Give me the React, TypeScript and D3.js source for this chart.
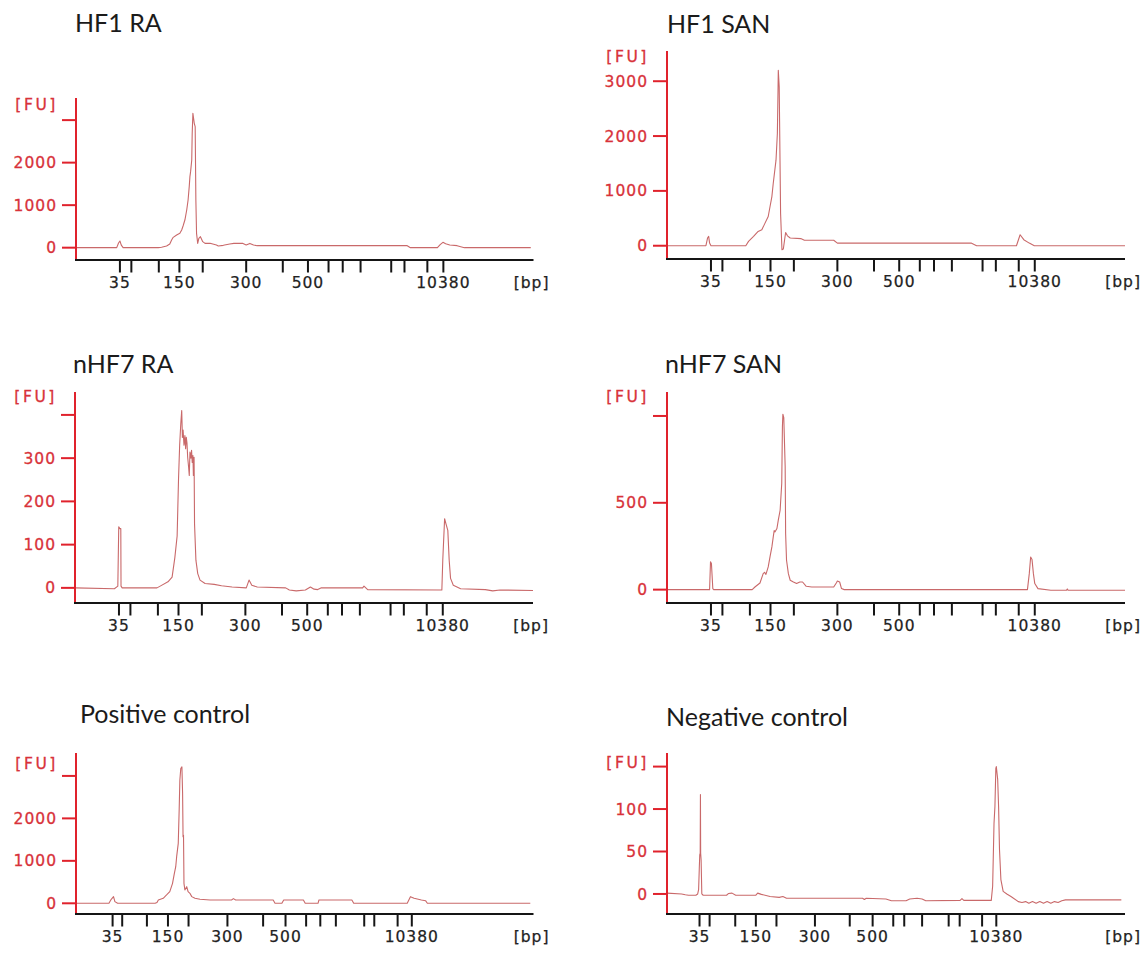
import React from "react";
import * as d3 from "d3";

type Pt = [number, number];

// Ladder fragment sizes (bp) and the migration times (s) at which they were detected.
const ladderSizes = [35, 50, 100, 150, 200, 300, 400, 500, 600, 700, 1000, 2000, 3000, 7000, 10380];
const labelledSizes = [35, 150, 300, 500, 10380];
const ladderTimesChipA = [9.6, 12.1, 18.1, 22.6, 27.7, 37.2, 45.2, 50.7, 55.2, 58.3, 62.2, 68.9, 71.8, 76.8, 80.3];
const ladderTimesPositive = [8.0, 10.1, 15.5, 20.1, 24.6, 33.1, 40.9, 45.8, 50.3, 53.4, 56.8, 63.0, 65.2, 70.3, 73.4];
const ladderTimesNegative = [7.1, 9.3, 14.9, 19.4, 23.9, 32.3, 39.9, 44.9, 49.4, 51.8, 55.7, 61.5, 63.9, 68.8, 71.9];

const sampleNames = ["HF1 RA", "HF1 SAN", "nHF7 RA", "nHF7 SAN", "Positive control", "Negative control"];

// Electropherogram traces: [migration time (s), fluorescence (FU)]
const hf1RA: Pt[] = [
  [0, 0], [8.9, 0], [9.3, 110], [9.6, 157], [9.9, 60], [10.3, 0], [18.0, 0], [18.7, 10], [19.8, 40],
  [20.5, 86], [20.9, 180], [21.25, 243], [22.0, 298], [22.7, 337], [23.1, 415], [23.4, 510], [23.8, 650],
  [24.2, 886], [24.5, 1121], [24.75, 1435], [24.9, 1670], [25.05, 1788], [25.3, 2062], [25.4, 2690],
  [25.55, 3160], [25.7, 3042], [25.85, 2924], [26.05, 2846], [26.2, 1121], [26.35, 337], [26.6, 102],
  [26.85, 220], [27.2, 259], [27.7, 141], [28.2, 102], [29.3, 102], [30.7, 63], [31.1, 40], [32.2, 55],
  [33.6, 86], [34.5, 100], [36.5, 100], [37.2, 63], [38.0, 100], [38.8, 63], [39.6, 47], [72.4, 47],
  [73.1, 0], [79.0, 0], [79.6, 70], [80.2, 125], [80.8, 90], [81.7, 63], [83.3, 47], [84.9, 0], [99.4, 0],
];

const hf1SAN: Pt[] = [
  [0, 0], [8.5, 0], [8.85, 140], [9.1, 170], [9.3, 48], [9.6, 0], [17.2, 0], [17.8, 79], [18.9, 170],
  [19.9, 260], [20.7, 290], [21.4, 412], [22.1, 533], [22.5, 715], [22.9, 897], [23.2, 1140], [23.8, 1560],
  [24.1, 2050], [24.24, 2840], [24.3, 3200], [24.5, 2900], [24.8, 594], [25.1, -73], [25.4, -60],
  [25.9, 242], [26.3, 180], [26.9, 140], [29.2, 130], [30.0, 100], [36.4, 100], [37.2, 48], [66.4, 48],
  [67.6, 0], [76.3, 0], [77.1, 200], [77.9, 110], [79.1, 48], [80.2, 0], [100, 0],
];

const nhf7RA: Pt[] = [
  [0, 0], [8.6, -2], [9.35, 4], [9.55, 141], [9.8, 137], [10.0, 137], [10.05, 4], [10.3, 0], [17.9, 0],
  [18.6, 4], [20.3, 14], [21.2, 25], [21.8, 70], [22.3, 120], [22.6, 250], [22.85, 330], [23.1, 380],
  [23.3, 410], [23.45, 348], [23.6, 365], [23.8, 330], [24.0, 352], [24.15, 322], [24.3, 348],
  [24.45, 335], [24.6, 302], [24.8, 280], [24.95, 260], [25.1, 314], [25.3, 300], [25.45, 318],
  [25.6, 290], [25.75, 306], [25.85, 260], [26.0, 302], [26.1, 148], [26.4, 64], [26.8, 33], [27.3, 18],
  [28.4, 10], [30.4, 8], [32.0, 5], [34.3, 2], [37.4, 0], [38.0, 18], [38.6, 6], [39.8, 2], [46.0, 0],
  [46.8, -5], [48.3, -7], [50.3, -5], [51.4, 2], [52.2, -3], [53.0, -4], [53.8, 0], [62.8, 0], [63.1, 4],
  [63.9, -4], [80.1, -5], [80.3, 64], [80.7, 160], [81.0, 148], [81.4, 133], [81.7, 64], [82.0, 22],
  [82.6, 6], [84.2, -2], [89.6, -4], [91.2, -7], [92.8, -5], [100, -6],
];

const nhf7SAN: Pt[] = [
  [0, 0], [9.3, 0], [9.5, 160], [9.7, 150], [10.0, 6], [10.2, 0], [18.6, 0], [19.2, 15], [20.3, 38],
  [21.0, 92], [21.3, 100], [21.6, 88], [22.1, 131], [22.5, 190], [22.9, 246], [23.2, 304], [23.4, 340],
  [23.6, 333], [24.0, 352], [24.3, 400], [24.7, 457], [25.05, 611], [25.2, 938], [25.3, 1010],
  [25.5, 990], [25.8, 707], [25.9, 323], [26.1, 169], [26.5, 92], [26.9, 54], [27.6, 44], [28.3, 35],
  [29.0, 44], [29.6, 44], [30.4, 19], [31.6, 15], [36.4, 15], [37.0, 40], [37.2, 50], [37.7, 44],
  [38.1, 6], [38.7, 0], [78.7, 0], [79.1, 92], [79.4, 188], [79.7, 173], [80.0, 92], [80.3, 35],
  [81.0, 6], [83.8, -4], [87.2, -4], [87.4, 4], [87.6, -4], [100, -4],
];

const positiveControl: Pt[] = [
  [0, 0], [7.2, 0], [7.7, 94], [8.2, 156], [8.5, 39], [9.1, 0], [17.3, 0], [17.7, 20], [18.0, 78],
  [19.06, 118], [19.8, 196], [20.5, 274], [21.1, 470], [21.5, 705], [21.8, 862], [22.0, 1098],
  [22.35, 1411], [22.55, 2195], [22.7, 2900], [22.9, 3175], [23.15, 3214], [23.3, 2587], [23.4, 1568],
  [23.5, 1600], [23.6, 470], [23.8, 314], [24.2, 392], [24.5, 274], [24.9, 235], [25.3, 157],
  [26.0, 118], [27.1, 94], [29.3, 78], [34.0, 78], [34.4, 110], [34.9, 78], [43.1, 78], [43.5, 0],
  [45.0, 0], [45.4, 78], [49.7, 78], [50.1, 0], [52.9, 0], [53.1, 78], [60.3, 78], [60.7, 0], [72.4, 0],
  [73.1, 156], [73.9, 117], [75.5, 78], [76.4, 62], [76.8, 0], [99.3, 0],
];

const negativeControl: Pt[] = [
  [0, 1], [3.2, 0], [4.0, -1], [4.7, -1.5], [6.3, -1.5], [6.7, 0], [6.9, 5], [7.05, 30], [7.15, 46],
  [7.25, 48], [7.3, 117], [7.35, 48], [7.45, 40], [7.6, 0], [7.9, -1.5], [13.0, -1.5], [13.4, 0.5],
  [14.2, 1], [15.0, -1.5], [19.4, -1.5], [19.8, 1], [20.6, -0.5], [22.5, -3], [24.5, -4], [25.3, -3],
  [26.1, -5], [42.7, -5], [43.1, -6.5], [43.5, -5], [47.8, -6], [49.0, -8], [52.2, -8], [53.0, -6],
  [54.6, -5], [55.7, -6], [56.5, -8], [64.0, -7.5], [64.4, -5.5], [64.8, -7.5], [70.8, -7.5],
  [71.1, 9], [71.4, 83], [71.6, 103], [71.8, 148], [71.9, 150], [72.2, 135], [72.4, 103], [72.6, 52],
  [72.9, 17], [73.4, 3], [74.2, 0], [75.1, -3], [76.7, -9], [77.5, -10], [78.3, -9], [79.0, -11],
  [79.8, -9], [80.6, -11], [81.4, -9], [82.2, -11], [83.0, -9], [83.8, -11], [84.6, -9], [85.4, -10],
  [86.2, -8], [87.0, -7], [99.2, -7],
];

const traces = [hf1RA, hf1SAN, nhf7RA, nhf7SAN, positiveControl, negativeControl];
const ladders = [ladderTimesChipA, ladderTimesChipA, ladderTimesChipA, ladderTimesChipA, ladderTimesPositive, ladderTimesNegative];

// Fluorescence ranges and tick values of each electropherogram
const yDomains: [number, number][] = [[-290, 3520], [-242, 3551], [-35, 453], [-77, 1138], [-252, 3540], [-23.6, 166]];
const yTickValues = [[0, 1000, 2000, 3000], [0, 1000, 2000, 3000], [0, 100, 200, 300, 400], [0, 500, 1000], [0, 1000, 2000, 3000], [0, 50, 100, 150]];
const yTickLabelled = [[0, 1000, 2000], [0, 1000, 2000, 3000], [0, 100, 200, 300], [0, 500], [0, 1000, 2000], [0, 50, 100]];

// Page placement of each panel
const layout = [
  { x0: 76, x1: 533.5, top: 98, bottom: 260, tx: 75, ty: 32, fuDy: 6 },
  { x0: 667, x1: 1125, top: 51, bottom: 259, tx: 667, ty: 33, fuDy: 5 },
  { x0: 75, x1: 533, top: 392, bottom: 603, tx: 73, ty: 373, fuDy: 4 },
  { x0: 667, x1: 1125, top: 392, bottom: 603, tx: 665, ty: 373, fuDy: 4 },
  { x0: 76, x1: 533.5, top: 753, bottom: 914, tx: 80, ty: 723, fuDy: 10 },
  { x0: 667, x1: 1125, top: 753, bottom: 914, tx: 666, ty: 726, fuDy: 9 },
];

const AXIS_RED = "#e0222c";
const LABEL_RED = "#d8323a";
const TRACE = "#c9696a";
const AXIS_FONT = "'DejaVu Sans', Verdana, sans-serif";
const TITLE_FONT = "Lato, 'Open Sans', sans-serif";

function Panel({ i }: { i: number }) {
  const L = layout[i];
  const x = d3.scaleLinear().domain([0, 100]).range([L.x0, L.x1]);
  const y = d3.scaleLinear().domain(yDomains[i]).range([L.bottom, L.top]);
  const line = d3.line<Pt>().x((d) => x(d[0])).y((d) => y(d[1]));
  const times = ladders[i];
  return (
    <g>
      <text x={L.tx} y={L.ty} fontFamily={TITLE_FONT} fontSize={25} fill="#1b1b1b">
        {sampleNames[i]}
      </text>
      <path d={line(traces[i]) ?? ""} fill="none" stroke={TRACE} strokeWidth={1.1} strokeLinejoin="round" />
      {/* fluorescence axis */}
      <line x1={L.x0} x2={L.x0} y1={L.top} y2={L.bottom} stroke={AXIS_RED} strokeWidth={2} />
      {yTickValues[i].map((v) => (
        <line key={"t" + v} x1={L.x0 - 14} x2={L.x0} y1={y(v)} y2={y(v)} stroke={AXIS_RED} strokeWidth={2} />
      ))}
      <g fontFamily={AXIS_FONT} fontSize={15.5} fill={LABEL_RED} stroke={LABEL_RED} strokeWidth={0.3}>
        {yTickLabelled[i].map((v) => (
          <text key={"l" + v} x={L.x0 - 19} y={y(v)} dy="0.36em" textAnchor="end" letterSpacing={1}>
            {v}
          </text>
        ))}
        <text x={L.x0 - 18} y={L.top + L.fuDy} dy="0.36em" textAnchor="end" letterSpacing={2.6}>
          [FU]
        </text>
      </g>
      {/* size axis */}
      <line x1={L.x0 - 1} x2={L.x1} y1={L.bottom} y2={L.bottom} stroke="#151515" strokeWidth={2} />
      {times.map((t, k) => (
        <line key={"x" + k} x1={x(t)} x2={x(t)} y1={L.bottom} y2={L.bottom + 12.5} stroke="#151515" strokeWidth={2} />
      ))}
      <g fontFamily={AXIS_FONT} fontSize={15.5} fill="#222" stroke="#222" strokeWidth={0.25}>
        {times.map((t, k) =>
          labelledSizes.includes(ladderSizes[k]) ? (
            <text key={"xl" + k} x={x(t)} y={L.bottom + 27.5} textAnchor="middle" letterSpacing={1}>
              {ladderSizes[k]}
            </text>
          ) : null
        )}
        <text x={L.x1 + 16} y={L.bottom + 27.5} textAnchor="end" letterSpacing={1}>
          [bp]
        </text>
      </g>
    </g>
  );
}

export default function App() {
  return (
    <svg width={1148} height={962} style={{ position: "absolute", left: 0, top: 0, background: "#fff" }}>
      <rect width={1148} height={962} fill="#fff" />
      {layout.map((_, i) => (
        <Panel key={i} i={i} />
      ))}
    </svg>
  );
}
